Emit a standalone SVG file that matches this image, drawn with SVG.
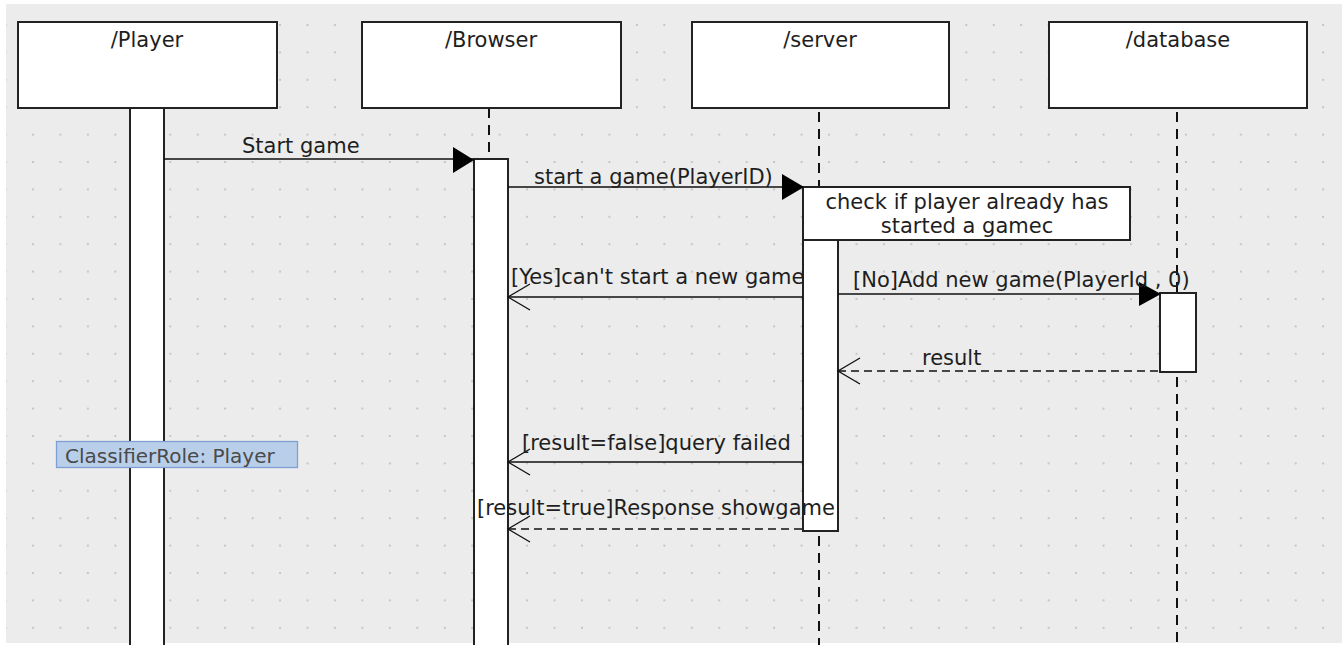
<svg xmlns="http://www.w3.org/2000/svg" width="1342" height="645" viewBox="0 0 1342 645">
<style>
.t{font-family:"DejaVu Sans",sans-serif;font-size:21px;fill:#1e1e1e}
.c{text-anchor:middle}
.box{fill:#fff;stroke:#222;stroke-width:2}
.act{fill:#fff;stroke:#222;stroke-width:2}
.life{stroke:#111;stroke-width:2;stroke-dasharray:10 7;fill:none}
.msg{stroke:#111;stroke-width:1.6;fill:none}
.ret{stroke:#111;stroke-width:1.6;fill:none;stroke-dasharray:8 5}
.head{fill:#000}
.open{stroke:#111;stroke-width:1.3;fill:none}
</style>
<defs>
<pattern id="grid" patternUnits="userSpaceOnUse" x="32" y="24" width="27.45" height="27.4">
<rect x="0" y="0" width="2" height="2" fill="#c6c6c6"/>
</pattern>
</defs>
<rect x="0" y="0" width="1342" height="645" fill="#fff"/>
<rect x="6" y="4" width="1336" height="639" fill="#ececec"/>
<rect x="6" y="4" width="1336" height="639" fill="url(#grid)"/>

<g id="lifelines">
<line class="life" x1="489" y1="108" x2="489" y2="159"/>
<line class="life" x1="819" y1="112" x2="819" y2="187"/>
<line class="life" x1="819" y1="536" x2="819" y2="645"/>
<line class="life" x1="1177" y1="112" x2="1177" y2="293"/>
<line class="life" x1="1177" y1="377" x2="1177" y2="645"/>
</g>

<g id="player">
<rect class="box" x="18" y="22" width="259" height="86"/>
<text class="t c" x="147" y="47">/Player</text>
<rect class="act" x="130" y="108" width="34" height="545"/>
</g>
<g id="browser">
<rect class="box" x="362" y="22" width="259" height="86"/>
<text class="t c" x="491" y="47">/Browser</text>
<rect class="act" x="474" y="159" width="34" height="494"/>
</g>
<g id="server">
<rect class="box" x="692" y="22" width="257" height="86"/>
<text class="t c" x="820" y="47">/server</text>
<rect class="act" x="803" y="240" width="35" height="291"/>
</g>
<g id="database">
<rect class="box" x="1049" y="22" width="258" height="86"/>
<text class="t c" x="1178" y="47">/database</text>
<rect class="act" x="1160" y="293" width="36" height="79"/>
</g>
<g id="note">
<rect class="box" x="803" y="187" width="327" height="53"/>
<text class="t c" x="967" y="209">check if player already has</text>
<text class="t c" x="967" y="233">started a gamec</text>
</g>

<g id="connectors">
<line class="msg" x1="164" y1="159" x2="474" y2="159"/>
<polygon class="head" points="453,147 474,160 453,173"/>
<text class="t" x="242" y="153">Start game</text>

<line class="msg" x1="508" y1="187" x2="803" y2="187"/>
<polygon class="head" points="782,174 804,187 782,200"/>
<text class="t" x="534" y="184">start a game(PlayerID)</text>

<line class="msg" x1="508" y1="297" x2="803" y2="297"/>
<polyline class="open" points="530,284 508,297 530,310"/>
<text class="t" x="511" y="284">[Yes]can't start a new game</text>

<line class="msg" x1="838" y1="294" x2="1160" y2="294"/>
<polygon class="head" points="1139,282 1161,294 1139,306"/>
<text class="t" x="853" y="287">[No]Add new game(PlayerId , 0)</text>

<line class="ret" x1="838" y1="371" x2="1160" y2="371"/>
<polyline class="open" points="860,358 838,371 860,384"/>
<text class="t" x="922" y="365">result</text>

<line class="msg" x1="508" y1="462" x2="803" y2="462"/>
<polyline class="open" points="530,449 508,462 530,475"/>
<text class="t" x="522" y="450">[result=false]query failed</text>

<line class="ret" x1="508" y1="529" x2="803" y2="529"/>
<polyline class="open" points="530,516 508,529 530,542"/>
<text class="t" x="477" y="515">[result=true]Response showgame</text>
</g>

<g id="tooltip">
<rect x="56.5" y="441.5" width="241" height="26" fill="#b9cfe9" stroke="#7d9fd4" stroke-width="1.3"/>
<text x="65" y="463" style="font-family:'DejaVu Sans',sans-serif;font-size:20px;fill:#4a4a4a">ClassifierRole: Player</text>
</g>
</svg>
